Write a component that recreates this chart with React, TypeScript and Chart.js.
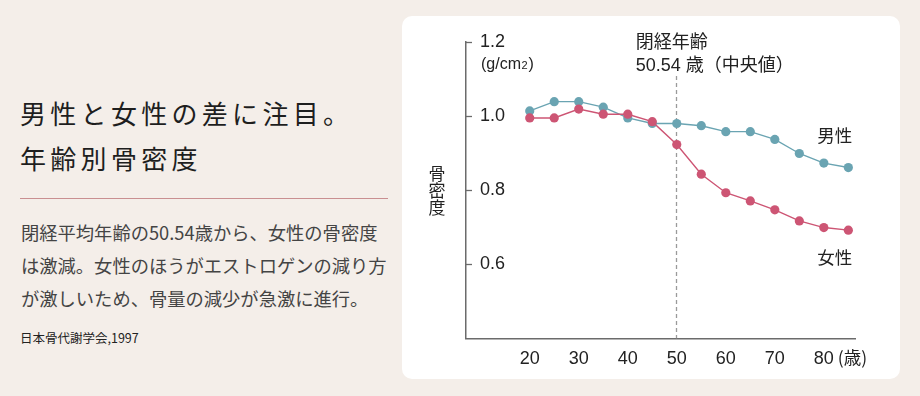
import React, { useEffect, useRef } from "react";
import { Chart, registerables } from "chart.js";
Chart.register(...registerables);

const AGES = [20, 25, 30, 35, 40, 45, 50, 55, 60, 65, 70, 75, 80, 85];
const MALE = [1.014, 1.039, 1.039, 1.024, 0.995, 0.98, 0.98, 0.974, 0.958, 0.958, 0.937, 0.899, 0.873, 0.861];
const FEMALE = [0.995, 0.995, 1.019, 1.005, 1.005, 0.985, 0.923, 0.843, 0.793, 0.771, 0.747, 0.717, 0.699, 0.692];
const X_TICKS = [20, 30, 40, 50, 60, 70, 80];
const Y_TICKS = [0.6, 0.8, 1.0, 1.2];
const MENOPAUSE_LINE_AGE = 50;

const BG = "#f4eee9";
const BLUE = "#6aa4b2";
const PINK = "#cd5574";
const TEXT = "#222222";
const AXIS = "#6b6b6b";
const FONT = "'Liberation Sans', 'Noto Sans CJK JP', sans-serif";
const CJK = "'Noto Sans CJK JP', 'Liberation Sans', sans-serif";

const decoPlugin = {
  id: "deco",
  beforeDatasetsDraw(chart: any) {
    const { ctx, chartArea, scales } = chart;
    const x = Math.round(scales.x.getPixelForValue(MENOPAUSE_LINE_AGE)) - 0.5;
    ctx.save();
    ctx.strokeStyle = "#9a9a9a";
    ctx.lineWidth = 1.3;
    ctx.setLineDash([4, 3]);
    ctx.beginPath();
    ctx.moveTo(x, 60);
    ctx.lineTo(x, chartArea.bottom);
    ctx.stroke();
    ctx.restore();
  },
  afterDraw(chart: any) {
    const { ctx, chartArea, scales } = chart;
    const xs = scales.x;
    const ys = scales.y;
    ctx.save();
    // y tick marks (inside)
    ctx.strokeStyle = AXIS;
    ctx.lineWidth = 1.3;
    for (const v of Y_TICKS) {
      const y = Math.round(ys.getPixelForValue(v)) + 0.5;
      ctx.beginPath();
      ctx.moveTo(chartArea.left, y);
      ctx.lineTo(chartArea.left + 6, y);
      ctx.stroke();
    }
    ctx.fillStyle = TEXT;
    ctx.textBaseline = "middle";
    // unit
    const uy = ys.getPixelForValue(1.2) + 23;
    let ux = chartArea.left + 15;
    ctx.textAlign = "left";
    ctx.font = `16px ${FONT}`;
    ctx.fillText("(g/cm", ux, uy);
    ux += ctx.measureText("(g/cm").width + 0.5;
    ctx.font = `11px ${FONT}`;
    ctx.fillText("2", ux, uy + 1);
    ux += ctx.measureText("2").width + 1;
    ctx.font = `16px ${FONT}`;
    ctx.fillText(")", ux, uy);
    // y title vertical
    ctx.textAlign = "center";
    ctx.font = `17px ${CJK}`;
    const title = ["骨", "密", "度"];
    title.forEach((c, i) => ctx.fillText(c, 35, 157.5 + i * 16.8));
    // annotation
    ctx.textAlign = "left";
    ctx.font = `18px ${CJK}`;
    const ax = xs.getPixelForValue(MENOPAUSE_LINE_AGE) - 41;
    ctx.fillText("閉経年齢", ax, 25);
    ctx.font = `18px ${FONT}`;
    ctx.fillText("50.54 歳（中央値）", ax, 50);
    // series labels
    ctx.textAlign = "right";
    ctx.font = `17.5px ${CJK}`;
    const lx = xs.getPixelForValue(AGES[AGES.length - 1]) + 4;
    ctx.fillText("男性", lx, ys.getPixelForValue(MALE[MALE.length - 1]) - 32);
    ctx.fillText("女性", lx, ys.getPixelForValue(FEMALE[FEMALE.length - 1]) + 27);
    // unit for x
    ctx.textAlign = "left";
    ctx.font = `17.5px ${CJK}`;
    const tx = xs.getPixelForValue(80) + 14;
    ctx.fillText("(歳)", tx, chartArea.bottom + 19);
    ctx.restore();
  },
};

function ChartCard() {
  const ref = useRef<HTMLCanvasElement>(null);
  useEffect(() => {
    const chart = new Chart(ref.current as HTMLCanvasElement, {
      type: "line",
      data: {
        datasets: [
          {
            label: "女性",
            data: AGES.map((a, i) => ({ x: a, y: FEMALE[i] })),
            borderColor: PINK,
            backgroundColor: PINK,
            pointBackgroundColor: PINK,
            pointBorderWidth: 0,
            pointRadius: 4.6,
            borderWidth: 1.4,
            order: 0,
          },
          {
            label: "男性",
            data: AGES.map((a, i) => ({ x: a, y: MALE[i] })),
            borderColor: BLUE,
            backgroundColor: BLUE,
            pointBackgroundColor: BLUE,
            pointBorderWidth: 0,
            pointRadius: 4.6,
            borderWidth: 1.4,
            order: 1,
          },
        ],
      },
      options: {
        responsive: false,
        animation: false,
        devicePixelRatio: 1,
        layout: { padding: { left: 64, top: 26, right: 44.3, bottom: 0 } },
        plugins: { legend: { display: false }, tooltip: { enabled: false } },
        scales: {
          x: {
            type: "linear",
            min: 7,
            max: 86.5,
            position: "bottom",
            afterFit: (s: any) => {
              s.height = 40.7;
            },
            afterBuildTicks: (s: any) => {
              s.ticks = X_TICKS.map((v) => ({ value: v }));
            },
            grid: { display: true, drawOnChartArea: false, drawTicks: false },
            border: { display: true, color: AXIS, width: 1.5 },
            ticks: {
              padding: 10,
              color: TEXT,
              autoSkip: false,
              maxRotation: 0,
              font: { family: FONT, size: 18 },
              callback: (v: any) => String(v),
            },
          },
          y: {
            type: "linear",
            min: 0.4,
            max: 1.2,
            afterFit: (s: any) => {
              s.width = 0;
            },
            afterBuildTicks: (s: any) => {
              s.ticks = Y_TICKS.map((v) => ({ value: v }));
            },
            grid: { display: true, drawOnChartArea: false, drawTicks: false },
            border: { display: true, color: AXIS, width: 1.5 },
            ticks: {
              mirror: true,
              padding: 14,
              color: TEXT,
              font: { family: FONT, size: 18 },
              callback: (v: any) => Number(v).toFixed(1),
            },
          },
        },
      },
      plugins: [decoPlugin],
    } as any);
    return () => chart.destroy();
  }, []);
  return <canvas ref={ref} width={498} height={363} style={{ display: "block" }} />;
}

export default function App() {
  return (
    <div
      style={{
        position: "absolute",
        left: 0,
        top: 0,
        width: 920,
        height: 396,
        background: BG,
        overflow: "hidden",
        fontFamily: CJK,
      }}
    >
      <div
        style={{
          position: "absolute",
          left: 20,
          top: 90,
          fontSize: 26,
          lineHeight: "45px",
          letterSpacing: 4.3,
          color: "#1e1e1e",
          fontWeight: 400,
          whiteSpace: "nowrap",
        }}
      >
        男性と女性の差に注目。
        <br />
        年齢別骨密度
      </div>
      <div style={{ position: "absolute", left: 20, top: 198, width: 368, height: 1, background: "#c98f91" }} />
      <div
        style={{
          position: "absolute",
          left: 21,
          top: 216,
          fontSize: 18.3,
          lineHeight: "33px",
          color: "#444444",
          whiteSpace: "nowrap",
        }}
      >
        閉経平均年齢の50.54歳から、女性の骨密度
        <br />
        は激減。女性のほうがエストロゲンの減り方
        <br />
        が激しいため、骨量の減少が急激に進行。
      </div>
      <div
        style={{
          position: "absolute",
          left: 20,
          top: 330,
          fontSize: 12.5,
          lineHeight: "16px",
          color: TEXT,
          whiteSpace: "nowrap",
        }}
      >
        日本骨代謝学会,1997
      </div>
      <div
        style={{
          position: "absolute",
          left: 402,
          top: 16,
          width: 498,
          height: 363,
          background: "#ffffff",
          borderRadius: 10,
          overflow: "hidden",
        }}
      >
        <ChartCard />
      </div>
    </div>
  );
}
